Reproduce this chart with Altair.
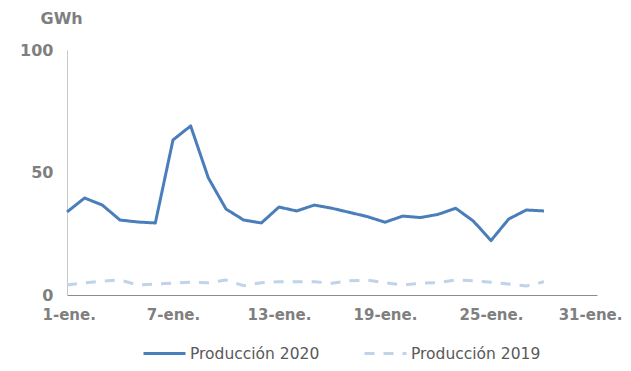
import altair as alt
import pandas as pd

days = list(range(1, 29))
prod_2020 = [33.9, 39.6, 36.7, 30.6, 29.8, 29.4, 63.3, 69.0, 47.8, 35.1,
             30.6, 29.4, 35.9, 34.3, 36.7, 35.4, 33.7, 32.0, 29.7, 32.2,
             31.6, 32.9, 35.4, 30.2, 22.2, 31.0, 34.7, 34.3]
prod_2019 = [4.1, 5.0, 5.7, 6.1, 4.1, 4.5, 4.8, 5.2, 5.0, 6.1,
             3.8, 5.0, 5.4, 5.4, 5.4, 4.8, 5.8, 6.1, 5.0, 4.1,
             4.8, 5.0, 6.1, 5.8, 5.2, 4.5, 3.7, 5.4]
series_names = ["Producción 2020", "Producción 2019"]
x_ticks = [1, 7, 13, 19, 25, 31]
y_ticks = [0, 50, 100]

rows = []
for d, v in zip(days, prod_2020):
    rows.append({"dia": d, "valor": v, "serie": series_names[0]})
for d, v in zip(days, prod_2019):
    rows.append({"dia": d, "valor": v, "serie": series_names[1]})
df = pd.DataFrame(rows)

FONT = "DejaVu Sans"

legend = alt.Legend(title=None, orient="none", direction="horizontal",
                    legendX=75, legendY=281, padding=0,
                    symbolType="stroke", symbolSize=1764,
                    symbolStrokeWidth=3, labelFont=FONT,
                    labelFontSize=15.5, labelColor="#595959",
                    labelOffset=3, columnPadding=38)

chart = alt.Chart(df).mark_line(strokeWidth=3, strokeJoin="round").encode(
    x=alt.X("dia:Q",
            scale=alt.Scale(domain=[1, 31], nice=False, zero=False),
            axis=alt.Axis(values=x_ticks, labelExpr="datum.value + '-ene.'",
                          title=None, ticks=False, grid=False,
                          domainColor="#8c8c8c", domainWidth=1,
                          labelFont=FONT, labelFontSize=15, labelFontWeight="bold",
                          labelColor="#7f7f7f", labelPadding=12,
                          labelFlush=True, labelFlushOffset=25,
                          labelOverlap=False)),
    y=alt.Y("valor:Q",
            scale=alt.Scale(domain=[0, 100], nice=False),
            axis=alt.Axis(values=y_ticks, title="GWh", titleAngle=0,
                          titleX=-27, titleY=-32, titleAlign="left",
                          titleBaseline="middle", titleFont=FONT,
                          titleFontSize=16, titleFontWeight="bold",
                          titleColor="#7f7f7f",
                          ticks=False, grid=False,
                          domainColor="#c8c8c8", domainWidth=1,
                          labelFont=FONT, labelFontSize=16, labelFontWeight="bold",
                          labelColor="#7f7f7f", labelPadding=14)),
    color=alt.Color("serie:N",
                    scale=alt.Scale(domain=series_names, range=["#4a7ebb", "#c0d3ea"]),
                    legend=legend),
    strokeDash=alt.StrokeDash("serie:N",
                              scale=alt.Scale(domain=series_names, range=[[1, 0], [10, 9]]),
                              legend=legend),
    detail="serie:N",
).properties(
    width=530, height=245,
    background="white",
    autosize=alt.AutoSizeParams(type="none"),
    padding={"left": 59, "top": 42, "right": 26, "bottom": 68},
).configure_view(strokeWidth=0)

chart.save("out.html", embed_options={"renderer": "svg", "actions": False})
